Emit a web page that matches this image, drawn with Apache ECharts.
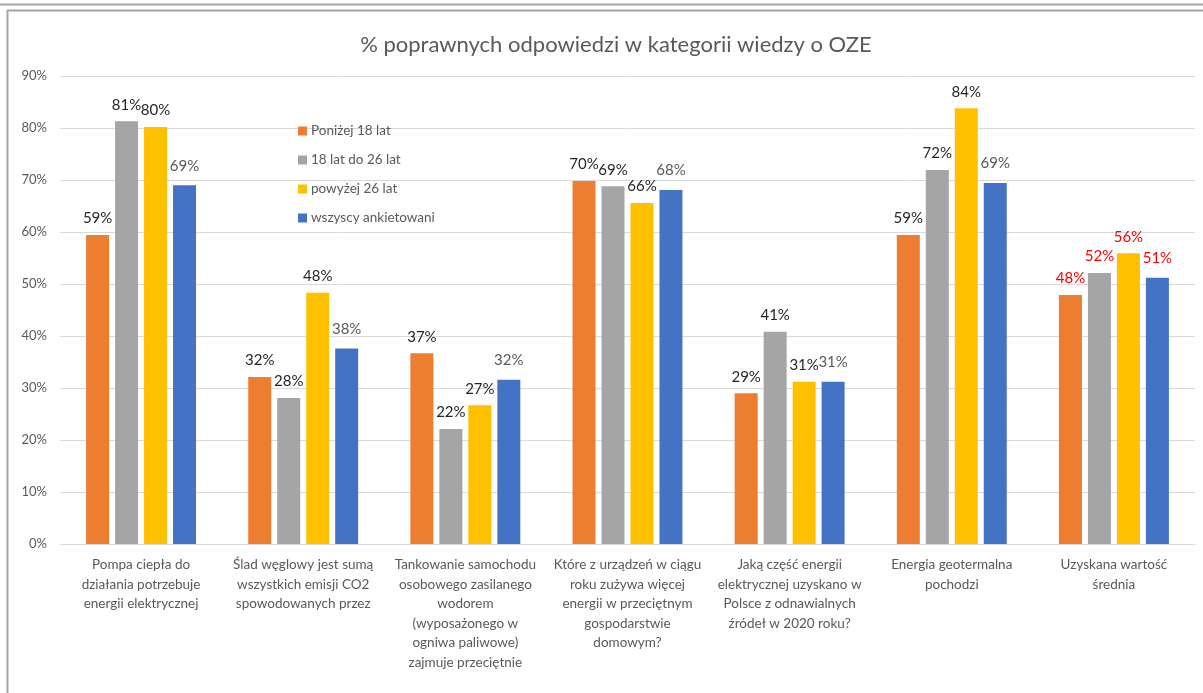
<!DOCTYPE html>
<html>
<head>
<meta charset="utf-8">
<script src="https://cdn.jsdelivr.net/npm/echarts@6/dist/echarts.min.js"></script>
<style>
  html, body { margin: 0; padding: 0; background: #ffffff; }
  #chart { width: 1203px; height: 693px; }
</style>
</head>
<body>
<div id="chart"></div>
<script>
// Question categories (axis labels, wrapped as in the survey report)
const categories = [
  'Pompa ciepła do\ndziałania potrzebuje\nenergii elektrycznej',
  'Ślad węglowy jest sumą\nwszystkich emisji CO2\nspowodowanych przez',
  'Tankowanie samochodu\nosobowego zasilanego\nwodorem\n(wyposażonego w\nogniwa paliwowe)\nzajmuje przeciętnie',
  'Które z urządzeń w ciągu\nroku zużywa więcej\nenergii w przeciętnym\ngospodarstwie\ndomowym?',
  'Jaką część energii\nelektrycznej uzyskano w\nPolsce z odnawialnych\nźródeł w 2020 roku?',
  'Energia geotermalna\npochodzi',
  'Uzyskana wartość\nśrednia'
];

// Share of correct answers (%) per age group
const seriesNames = ['Poniżej 18 lat', '18 lat do 26 lat', 'powyżej 26 lat', 'wszyscy ankietowani'];
const under18   = [59.4, 32.1, 36.7, 69.8, 29.0, 59.4, 47.9];
const from18to26 = [81.3, 28.1, 22.1, 68.8, 40.8, 71.9, 52.1];
const over26    = [80.2, 48.3, 26.7, 65.6, 31.2, 83.8, 55.9];
const allPeople = [69.0, 37.6, 31.6, 68.1, 31.2, 69.4, 51.2];

const yTicks = [0, 10, 20, 30, 40, 50, 60, 70, 80, 90];

const colors = ['#ED7D31', '#A5A5A5', '#FFC000', '#4472C4'];
const FONT = 'Lato, "Liberation Sans", sans-serif';
const TEXT = '#595959';

// The last category (average) has its value labels in red
function makeSeries(name, data, color, labelColor, dist) {
  return {
    name: name,
    type: 'bar',
    barWidth: 23,
    barGap: '26%',
    itemStyle: { color: color },
    data: data.map((v, i) => ({
      value: v,
      label: i === categories.length - 1 ? { color: '#FF0000' } : undefined
    })),
    label: {
      show: true,
      position: 'top',
      distance: dist,
      fontFamily: FONT,
      fontSize: 15,
      color: labelColor,
      formatter: p => Math.round(p.value) + '%'
    }
  };
}

const chart = echarts.init(document.getElementById('chart'), null, { renderer: 'canvas' });
chart.setOption({
  backgroundColor: '#ffffff',
  animation: false,
  title: {
    text: '% poprawnych odpowiedzi w kategorii wiedzy o OZE',
    left: 611,
    top: 29,
    textAlign: 'center',
    textStyle: { fontFamily: FONT, fontSize: 22, fontWeight: 'normal', color: TEXT }
  },
  legend: {
    orient: 'vertical',
    left: 293,
    top: 119,
    itemWidth: 9,
    itemHeight: 9,
    itemGap: 15,
    icon: 'rect',
    data: seriesNames,
    textStyle: { fontFamily: FONT, fontSize: 13.5, color: TEXT, padding: [0, 0, 0, -1] }
  },
  grid: { left: 60, right: 8, top: 76, bottom: 149 },
  xAxis: {
    type: 'category',
    data: categories,
    axisTick: { show: false },
    axisLine: { lineStyle: { color: '#D9D9D9', width: 1 } },
    axisLabel: {
      interval: 0,
      margin: 11,
      fontFamily: FONT,
      fontSize: 13.5,
      lineHeight: 19.5,
      color: TEXT,
      align: 'center'
    }
  },
  yAxis: {
    type: 'value',
    min: yTicks[0],
    max: yTicks[yTicks.length - 1],
    interval: 10,
    axisLine: { show: false },
    axisTick: { show: false },
    splitLine: { lineStyle: { color: '#D9D9D9', width: 1 } },
    axisLabel: {
      margin: 13,
      fontFamily: FONT,
      fontSize: 13,
      color: TEXT,
      formatter: '{value}%'
    }
  },
  series: [
    makeSeries(seriesNames[0], under18, colors[0], '#262626', 9),
    makeSeries(seriesNames[1], from18to26, colors[1], '#262626', 9),
    makeSeries(seriesNames[2], over26, colors[2], '#262626', 9),
    makeSeries(seriesNames[3], allPeople, colors[3], '#595959', 12)
  ],
  // Window frame around the chart
  graphic: [
    { type: 'line', shape: { x1: 0, y1: 4.5, x2: 1203, y2: 4.5 }, style: { stroke: '#A6A6A6', lineWidth: 2 }, silent: true },
    { type: 'line', shape: { x1: 7, y1: 10.5, x2: 1203, y2: 10.5 }, style: { stroke: '#A6A6A6', lineWidth: 2 }, silent: true },
    { type: 'line', shape: { x1: 7.5, y1: 10, x2: 7.5, y2: 693 }, style: { stroke: '#A6A6A6', lineWidth: 2 }, silent: true }
  ]
});
</script>
</body>
</html>
